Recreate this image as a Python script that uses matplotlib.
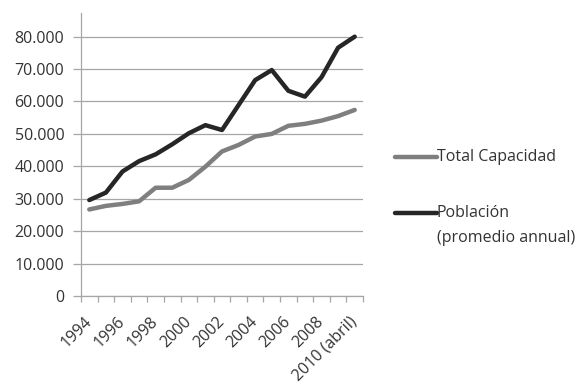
import matplotlib
matplotlib.use("Agg")
import matplotlib.pyplot as plt
from matplotlib.lines import Line2D

plt.rcParams['font.family'] = ['Open Sans', 'DejaVu Sans']

# datos anuales
anios = list(range(1994, 2011))
etiquetas = ['1994', '1996', '1998', '2000', '2002', '2004', '2006', '2008', '2010 (abril)']
capacidad = [26700, 27800, 28400, 29200, 33400, 33400, 35800, 39900, 44600,
             46600, 49200, 50000, 52500, 53100, 54100, 55500, 57400]
poblacion = [29600, 31900, 38400, 41600, 43700, 46800, 50200, 52700, 51200,
             58900, 66600, 69700, 63300, 61500, 67500, 76600, 80000]

texto = '#333333'
c_cap = '#7f7f7f'
c_pob = '#262626'
fs = 11.5

fig = plt.figure(figsize=(5.82, 3.87), dpi=100)
ax = fig.add_axes([81/582, 1-296/387, (363-81)/582, (296-13)/387])

x = list(range(len(anios)))
ax.plot(x, capacidad, color=c_cap, lw=3.2, solid_capstyle='round', zorder=3)
ax.plot(x, poblacion, color=c_pob, lw=3.2, solid_capstyle='round', zorder=3)

ax.set_xlim(-0.5, len(anios) - 0.5)
ax.set_ylim(0, 87300)
ax.set_yticks(range(0, 80001, 10000))
ax.set_yticklabels(['0' if v == 0 else f'{v//1000}.000' for v in range(0, 80001, 10000)])
ax.grid(axis='y', color='#a6a6a6', lw=0.9)
ax.set_axisbelow(True)

# etiquetas cada dos años, marcas en los bordes de categoría
ax.set_xticks(range(0, len(anios), 2))
ax.set_xticklabels(etiquetas, rotation=45, ha='right', va='center', rotation_mode='anchor')
ax.set_xticks([i - 0.5 for i in range(len(anios) + 1)], minor=True)
ax.tick_params(axis='x', which='major', length=0, pad=17, labelsize=fs, labelcolor=texto)
ax.tick_params(axis='x', which='minor', length=4, color='#a6a6a6', width=0.9)
ax.tick_params(axis='y', length=6, color='#a6a6a6', width=0.9, pad=6, labelsize=fs, labelcolor=texto)

for s in ['top', 'right']:
    ax.spines[s].set_visible(False)
for s in ['left', 'bottom']:
    ax.spines[s].set_color('#a6a6a6')
    ax.spines[s].set_linewidth(0.9)

# leyenda
fig.add_artist(Line2D([395/582, 437/582], [1-157/387, 1-157/387], color=c_cap, lw=3.2, solid_capstyle='round'))
fig.text(437/582, 1-157/387, 'Total Capacidad', fontsize=fs, color=texto, va='center', ha='left')
fig.add_artist(Line2D([395/582, 437/582], [1-213/387, 1-213/387], color=c_pob, lw=3.2, solid_capstyle='round'))
fig.text(437/582, 1-213/387, 'Población', fontsize=fs, color=texto, va='center', ha='left')
fig.text(437/582, 1-238/387, '(promedio annual)', fontsize=fs, color=texto, va='center', ha='left')

fig.savefig('out.png', dpi=100, facecolor='white')
